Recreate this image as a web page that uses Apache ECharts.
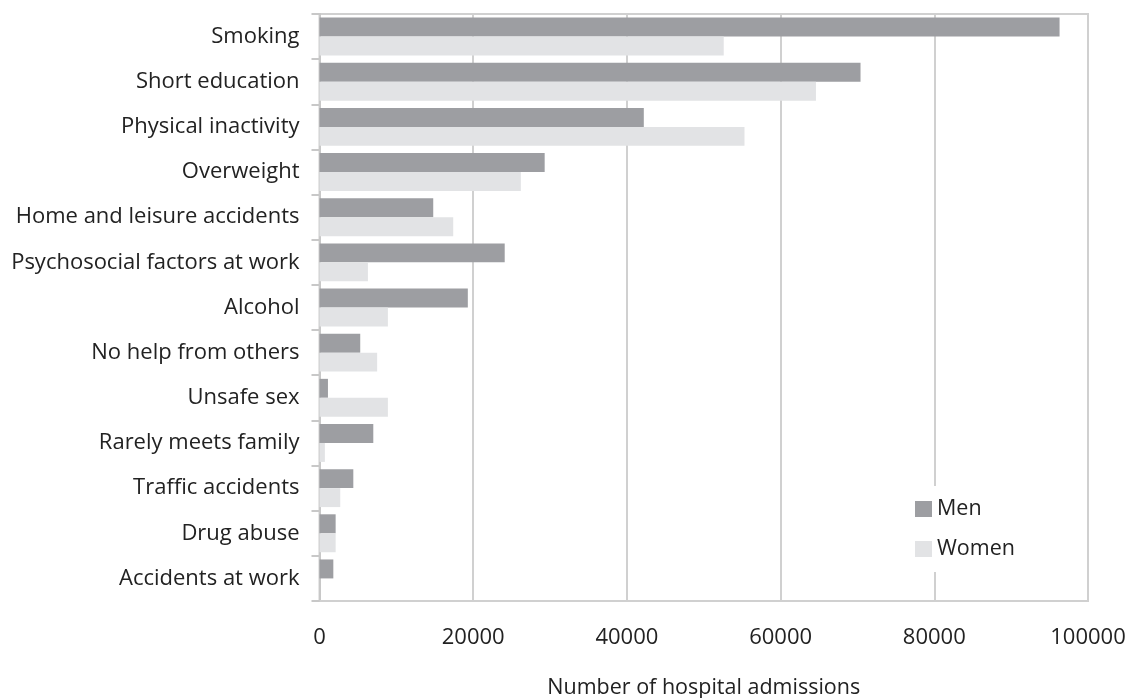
<!DOCTYPE html>
<html>
<head>
<meta charset="utf-8">
<script src="https://cdn.jsdelivr.net/npm/echarts@6/dist/echarts.min.js"></script>
<style>html,body{margin:0;padding:0;background:#fff}#c{width:1132px;height:698px}</style>
</head>
<body>
<div id="c"></div>
<script>
const categories = ["Smoking","Short education","Physical inactivity","Overweight","Home and leisure accidents","Psychosocial factors at work","Alcohol","No help from others","Unsafe sex","Rarely meets family","Traffic accidents","Drug abuse","Accidents at work"];
const men =   [96300, 70400, 42200, 29300, 14800, 24100, 19300, 5300, 1100, 7000, 4400, 2100, 1800];
const women = [52600, 64600, 55300, 26200, 17400, 6300, 8900, 7500, 8900, 700, 2700, 2100, 0];
const xTicks = {min: 0, max: 100000, interval: 20000};

const font = "'Open Sans', sans-serif";
const chart = echarts.init(document.getElementById('c'));
chart.setOption({
  animation: false,
  backgroundColor: '#fff',
  grid: {left: 319.5, right: 44, top: 14, bottom: 97, show: true, borderColor: '#d0d0d0', borderWidth: 2, outerBoundsMode: 'none', containLabel: false},
  legend: {
    orient: 'vertical', left: 907, top: 486,
    itemWidth: 17, itemHeight: 16, itemGap: 18,
    backgroundColor: '#fff', padding: [12, 12, 12, 8],
    icon: 'rect',
    textStyle: {fontFamily: font, fontSize: 21.5, color: '#222'},
    data: ['Men', 'Women']
  },
  xAxis: {
    type: 'value', min: xTicks.min, max: xTicks.max, interval: xTicks.interval,
    name: 'Number of hospital admissions', nameLocation: 'middle', nameGap: 76,
    nameTextStyle: {fontFamily: font, fontSize: 21.5, color: '#222'},
    axisLine: {show: true, lineStyle: {color: '#d0d0d0', width: 2}},
    axisTick: {show: false},
    axisLabel: {fontFamily: font, fontSize: 22, color: '#222', margin: 26, formatter: v => String(v)},
    splitLine: {show: true, lineStyle: {color: '#d0d0d0', width: 2}}
  },
  yAxis: {
    type: 'category', inverse: true, data: categories,
    axisLine: {show: true, lineStyle: {color: '#c8c8c8', width: 2}},
    axisTick: {show: true, length: 8, lineStyle: {color: '#c8c8c8', width: 2}},
    axisLabel: {fontFamily: font, fontSize: 22, color: '#222', margin: 20}
  },
  series: [
    {name: 'Men', type: 'bar', data: men, barGap: '0%', barCategoryGap: '16%', itemStyle: {color: '#9d9ea2'}},
    {name: 'Women', type: 'bar', data: women, barGap: '0%', barCategoryGap: '16%', itemStyle: {color: '#e2e3e5'}}
  ]
});
</script>
</body>
</html>
